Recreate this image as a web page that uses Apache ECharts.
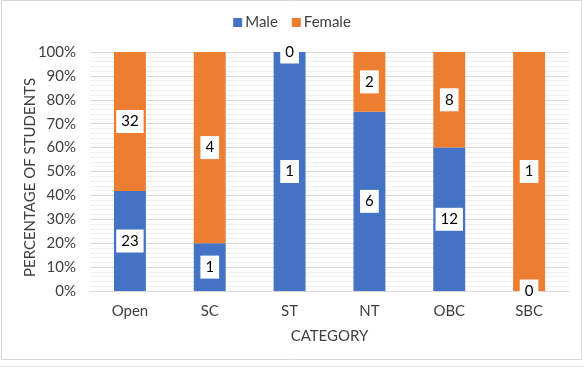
<!DOCTYPE html>
<html>
<head>
<meta charset="utf-8">
<script src="https://cdn.jsdelivr.net/npm/echarts@6/dist/echarts.min.js"></script>
<style>html,body{margin:0;padding:0;background:#fff;}#c{width:584px;height:368px;}</style>
</head>
<body>
<div id="c"></div>
<script>
var categories = ['Open', 'SC', 'ST', 'NT', 'OBC', 'SBC'];
var maleCounts = [23, 1, 1, 6, 12, 0];
var femaleCounts = [32, 4, 0, 2, 8, 1];
var yTickLabels = ['0%', '10%', '20%', '30%', '40%', '50%', '60%', '70%', '80%', '90%', '100%'];

function pct(a, b, i) {
  var t = a[i] + b[i];
  return t === 0 ? 0 : a[i] / t * 100;
}
var maleData = maleCounts.map(function (v, i) { return { value: pct(maleCounts, femaleCounts, i), count: v }; });
var femaleData = femaleCounts.map(function (v, i) { return { value: pct(femaleCounts, maleCounts, i), count: v }; });

var FONT = 'Lato';
var labelStyle = {
  show: true,
  position: 'inside',
  formatter: function (p) { return String(p.data.count); },
  color: '#000',
  fontFamily: FONT,
  fontSize: 15,
  backgroundColor: '#fff',
  padding: [4, 5, 4, 5]
};

var chart = echarts.init(document.getElementById('c'), null, { renderer: 'canvas' });
chart.setOption({
  animation: false,
  backgroundColor: '#fff',
  textStyle: { fontFamily: FONT },
  legend: {
    top: 10,
    left: 'center',
    itemWidth: 9,
    itemHeight: 9,
    itemGap: 14,
    icon: 'rect',
    textStyle: { fontFamily: FONT, fontSize: 15, color: '#404040', padding: [0, 0, 0, -2] },
    data: ['Male', 'Female']
  },
  grid: { left: 90, right: 15, top: 52, bottom: 77, containLabel: false },
  xAxis: {
    type: 'category',
    data: categories,
    name: 'CATEGORY',
    nameLocation: 'middle',
    nameGap: 38,
    nameMoveOverlap: false,
    nameTextStyle: { fontFamily: FONT, fontSize: 15, color: '#404040' },
    axisLine: { show: true, lineStyle: { color: '#d9d9d9', width: 1 } },
    axisTick: { show: false },
    axisLabel: { fontFamily: FONT, fontSize: 15, color: '#404040', margin: 13 }
  },
  yAxis: {
    type: 'value',
    min: 0,
    max: 100,
    interval: 10,
    name: 'PERCENTAGE OF STUDENTS',
    nameLocation: 'middle',
    nameGap: 52,
    nameMoveOverlap: false,
    nameTextStyle: { fontFamily: FONT, fontSize: 15, color: '#404040', padding: [0, 12, 0, 0] },
    axisLine: { show: false },
    axisTick: { show: false },
    axisLabel: {
      fontFamily: FONT, fontSize: 15, color: '#404040', margin: 14,
      formatter: function (v) { return yTickLabels[Math.round(v / 10)]; }
    },
    splitLine: { show: true, lineStyle: { color: '#d9d9d9', width: 1 } },
    minorTick: { show: false, splitNumber: 5 },
    minorSplitLine: { show: true, lineStyle: { color: '#f0f0f0', width: 1 } }
  },
  series: [
    {
      name: 'Male', type: 'bar', stack: 'total', barWidth: '40%',
      itemStyle: { color: '#4472C4' },
      label: labelStyle,
      data: maleData
    },
    {
      name: 'Female', type: 'bar', stack: 'total', barWidth: '40%',
      itemStyle: { color: '#ED7D31' },
      label: labelStyle,
      data: femaleData
    }
  ],
  graphic: [
    { type: 'rect', silent: true, z: -1, shape: { x: 1.5, y: 0.5, width: 580, height: 359 }, style: { fill: 'none', stroke: '#d9d9d9', lineWidth: 1 } },
    { type: 'line', silent: true, shape: { x1: 0, y1: 366.5, x2: 584, y2: 366.5 }, style: { stroke: '#e6e6e6', lineWidth: 1 } }
  ]
});
</script>
</body>
</html>
